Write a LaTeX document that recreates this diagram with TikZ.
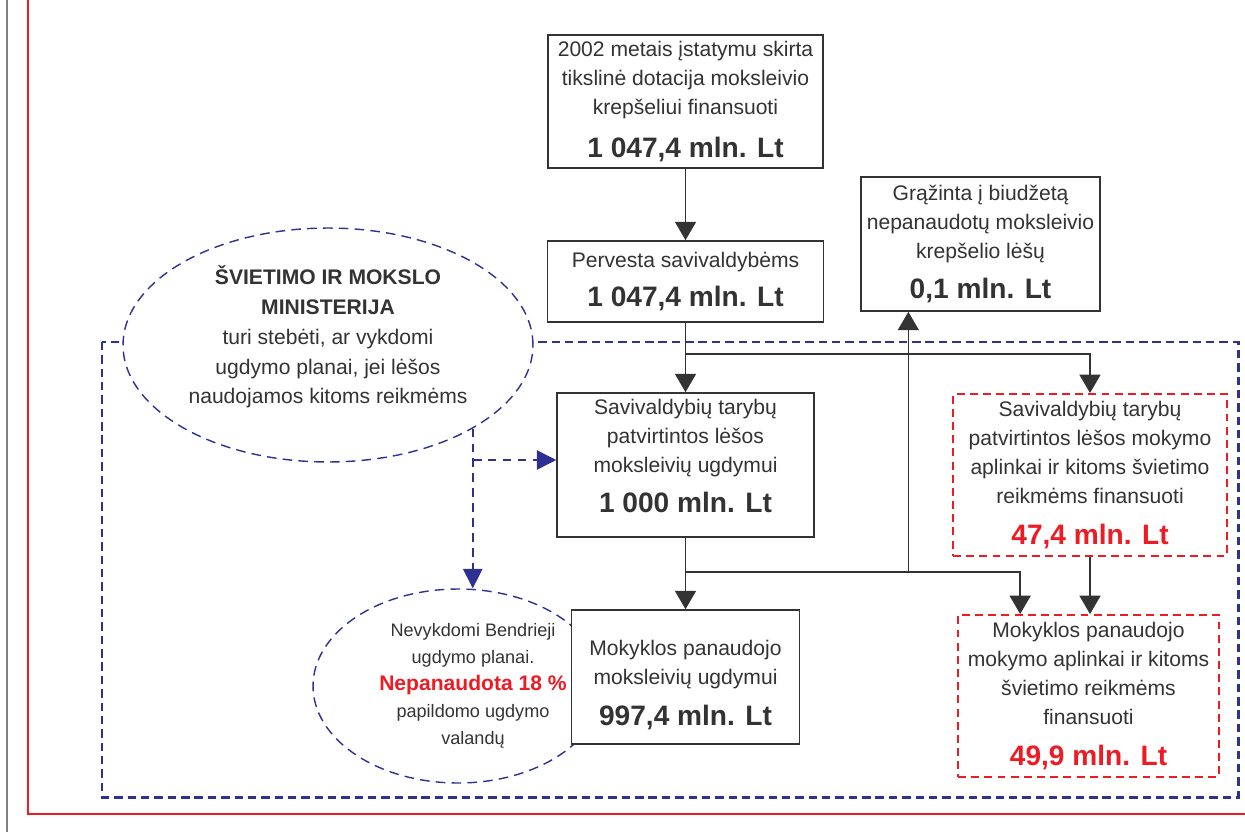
\documentclass[tikz,border=0pt]{standalone}
\usepackage{fontspec}
\setmainfont{Liberation Sans}
\usepackage{xcolor}
\usetikzlibrary{shapes.geometric,arrows.meta,calc,positioning}
\definecolor{ink}{HTML}{333333}
\definecolor{navy}{HTML}{2E3192}
\definecolor{alert}{HTML}{ED1C24}
\newcommand{\suma}[1]{{\fontsize{16}{19}\selectfont\bfseries #1}}

\begin{document}
\begin{tikzpicture}[x=0.02cm, y=-0.02cm,
        box/.style = {draw=ink, line width=0.9pt, fill=white, text=ink, align=center, inner sep=0pt,
                      font=\fontsize{12}{16.5}\selectfont},
        redbox/.style = {box, draw=alert, line width=1.1pt, dash pattern=on 4.5pt off 3pt},
        cloud/.style = {ellipse, draw=navy, line width=0.8pt, dash pattern=on 5.5pt off 3.5pt,
                        fill=white, inner sep=0pt},
        note/.style = {text=ink, align=center, inner sep=0pt},
        flow/.style = {draw=ink, line width=0.9pt, -{Triangle[width=12pt,length=10.5pt]}},
        navyflow/.style = {draw=navy, line width=0.85pt, dash pattern=on 5pt off 3.5pt,
                           -{Triangle[width=11pt,length=11pt]}}]
    \useasboundingbox (0,0) rectangle (1245,832);
    \draw[gray, line width=1.3pt] (7,0) -- (7,832);
    \draw[alert, line width=1.2pt] (28,0) -- (28,814) -- (1245,814);
    \draw[navy, line width=1.7pt, dash pattern=on 4.8pt off 2.8pt] (102,342) rectangle (1238,797);

    \node[cloud, minimum width=8.2cm, minimum height=4.68cm] (ministerija) at (328,345) {};
    \node[note, font=\fontsize{12}{17}\selectfont] (ministerijatxt) at (328,337)
        {\textbf{ŠVIETIMO IR MOKSLO}\\\textbf{MINISTERIJA}\\turi stebėti, ar vykdomi\\ugdymo planai, jei lėšos\\naudojamos kitoms reikmėms};
    \node[cloud, minimum width=5.8cm, minimum height=3.88cm] (nevykd) at (458,686) {};
    \node[note, font=\fontsize{10.3}{15.3}\selectfont] (nevykdtxt) at (473,686)
        {Nevykdomi Bendrieji\\ugdymo planai.\\\textcolor{alert}{\fontsize{12}{15}\selectfont\bfseries Nepanaudota 18 \%}\\papildomo ugdymo\\valandų};

    \node[box, minimum width=5.5cm, minimum height=2.66cm] (tdot) at (685.5,101.5)
        {2002 metais įstatymu skirta\\tikslinė dotacija moksleivio\\krepšeliui finansuoti\\[8pt]\suma{1 047,4 mln. Lt}};
    \node[box, minimum width=5.52cm, minimum height=1.62cm] (perv) at (685.5,281.5)
        {Pervesta savivaldybėms\\[6pt]\suma{1 047,4 mln. Lt}};
    \node[box, minimum width=4.78cm, minimum height=2.68cm] (grazinta) at (980.5,244)
        {Grąžinta į biudžetą\\nepanaudotų moksleivio\\krepšelio lėšų\\[6pt]\suma{0,1 mln. Lt}};
    \node[box, minimum width=5.14cm, minimum height=2.88cm] (taryb) at (685.5,465)
        {Savivaldybių tarybų\\patvirtintos lėšos\\moksleivių ugdymui\\[6pt]\suma{1 000 mln. Lt}\\[-6pt]\mbox{}};
    \node[box, minimum width=4.56cm, minimum height=2.68cm] (mokykl) at (685.5,677)
        {\mbox{}\\[1pt]Mokyklos panaudojo\\moksleivių ugdymui\\[7pt]\suma{997,4 mln. Lt}};
    \node[redbox, minimum width=5.48cm, minimum height=3.24cm] (aplinka) at (1090,475)
        {Savivaldybių tarybų\\patvirtintos lėšos mokymo\\aplinkai ir kitoms švietimo\\reikmėms finansuoti\\[7pt]\textcolor{alert}{\suma{47,4 mln. Lt}}};
    \node[redbox, minimum width=5.22cm, minimum height=3.24cm] (mokaplink) at (1088.5,696)
        {Mokyklos panaudojo\\mokymo aplinkai ir kitoms\\švietimo reikmėms\\finansuoti\\[7pt]\textcolor{alert}{\suma{49,9 mln. Lt}}};

    \coordinate (j1) at ($(perv.south)!0.45!(taryb.north)$);
    \coordinate (j2) at ($(taryb.south)!0.48!(mokykl.north)$);
    \coordinate (up) at ($(grazinta.south west)!0.2!(grazinta.south east)$);
    \coordinate (in) at ($(mokaplink.north west)!0.24!(mokaplink.north east)$);
    \coordinate (brk) at ($(taryb.west)+(0,-5)$);

    \draw[flow] (tdot) -- (perv);
    \draw[flow] (perv) -- (taryb);
    \draw[flow] (j1) -| (aplinka);
    \draw[flow] (taryb.south) -- (taryb.south |- mokykl.north);
    \draw[flow] (j2) -| (in);
    \draw[flow] (up |- j2) -- (up);
    \draw[flow] (aplinka.south) -- (aplinka.south |- mokaplink.north);

    \draw[navyflow] (ministerija.-30) -- (ministerija.-30 |- nevykd.north);
    \draw[navyflow] (ministerija.-30 |- brk) -- (brk);
\end{tikzpicture}
\end{document}
